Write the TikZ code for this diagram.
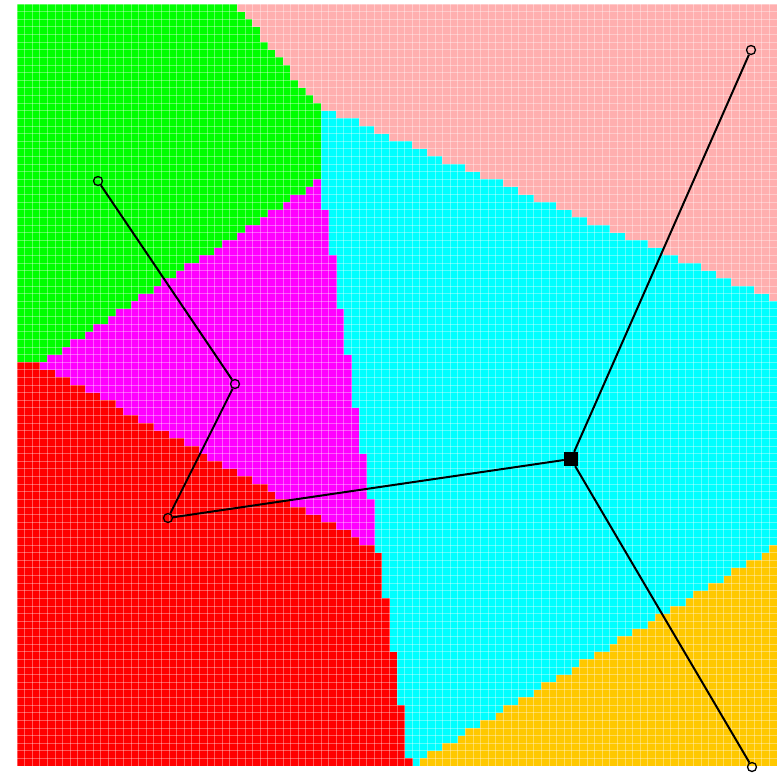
\documentclass[tikz,border=0pt]{standalone}
\usepackage{tikz}
\usetikzlibrary{positioning}
\definecolor{rgreen}{HTML}{00FF00}
\definecolor{rpink}{HTML}{FFAFAF}
\definecolor{rcyan}{HTML}{00FFFF}
\definecolor{rmag}{HTML}{FF00FF}
\definecolor{rred}{HTML}{FF0000}
\definecolor{rgold}{HTML}{FFC800}
\tikzset{
  link/.style={line width=2pt, draw=black},
  leaf/.style={circle, draw=black, line width=1.3pt, minimum size=9pt, inner sep=0pt},
  hub/.style={rectangle, fill=black, minimum size=14pt, inner sep=0pt},
  cell/.style={draw=white, draw opacity=0.35, line width=0.8pt},
}

\begin{document}
\begin{tikzpicture}[x=1pt,y=-1pt]
  \useasboundingbox (0,0) rectangle (777,774);
  % regions, one column of cells at a time
  \fill[rcyan] (17,4) rectangle (777,766);
  \foreach \i in {0,...,99} {
    \pgfmathsetmacro\xa{17+7.6*\i-0.3}
    \pgfmathsetmacro\xb{\xa+8.2}
    \pgfmathsetmacro\xc{17+7.6*\i+3.8}
    % green, down to gy
    \pgfmathsetmacro\gy{\xc<40 ? 363 : (\xc<322 ? 364-(\xc-40)*0.657 : 4)}
    \pgfmathtruncatemacro\gn{round((\gy-4)/7.62)}
    \ifnum\gn>0 \fill[rgreen] (\xa,4) rectangle (\xb,4+7.62*\gn); \fi
    % magenta, from my down
    \pgfmathsetmacro\my{\xc<40 ? 2000 : (\xc<320 ? 364-(\xc-40)*0.657 : (\xc<378 ? 180+(\xc-320)*6.38 : 2000))}
    \pgfmathtruncatemacro\mn{round((\my-4)/7.62)}
    \ifnum\mn<100 \fill[rmag] (\xa,4+7.62*\mn) rectangle (\xb,766); \fi
    % red, from ry down
    \pgfmathsetmacro\ry{\xc<40 ? 363 : (\xc<378 ? 364+(\xc-40)*0.55 : (\xc<410 ? 550+(\xc-378)*6.75 : 2000))}
    \pgfmathtruncatemacro\rn{round((\ry-4)/7.62)}
    \ifnum\rn<100 \fill[rred] (\xa,4+7.62*\rn) rectangle (\xb,766); \fi
    % pink, down to py
    \pgfmathsetmacro\py{\xc<237 ? 4 : (\xc<315 ? 4+(\xc-237)*1.295 : 105+(\xc-315)*0.422)}
    \pgfmathtruncatemacro\pn{round((\py-4)/7.62)}
    \ifnum\pn>0 \fill[rpink] (\xa,4) rectangle (\xb,4+7.62*\pn); \fi
    % gold, from qy down
    \pgfmathsetmacro\qy{\xc<410 ? 2000 : 766-(\xc-410)*0.602}
    \pgfmathtruncatemacro\qn{round((\qy-4)/7.62)}
    \ifnum\qn<100 \fill[rgold] (\xa,4+7.62*\qn) rectangle (\xb,766); \fi
  }
  % cell grid
  \foreach \i in {0,...,100} {
    \draw[cell] (17+7.6*\i,4) -- (17+7.6*\i,766);
    \draw[cell] (17,4+7.62*\i) -- (777,4+7.62*\i);
  }
  % tree
  \node[leaf] (g) at (98,181) {};
  \node[leaf] (m) at (235,384) {};
  \node[leaf] (r) at (168,518) {};
  \node[hub] (c) at (571,459) {};
  \node[leaf] (p) at (751,50) {};
  \node[leaf] (o) at (752,767) {};
  \draw[link] (g) -- (m) -- (r) -- (c);
  \draw[link] (c) -- (p);
  \draw[link] (c) -- (o);
\end{tikzpicture}
\end{document}
